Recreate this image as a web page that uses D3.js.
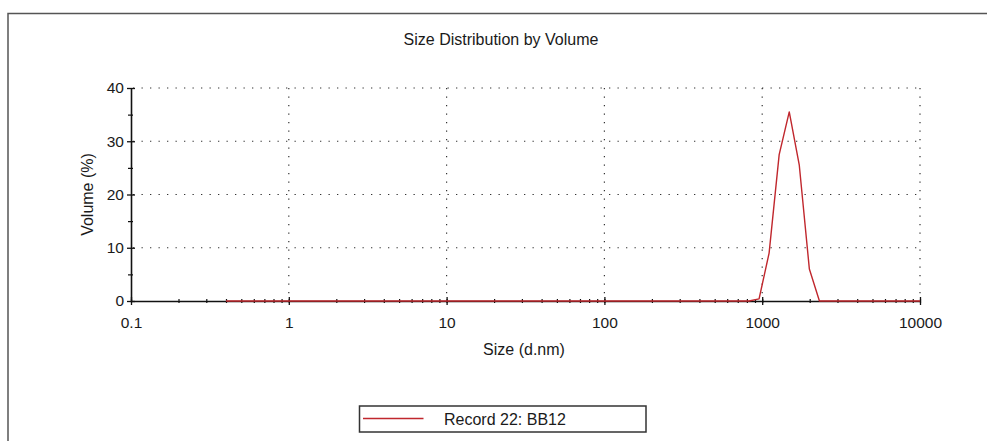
<!DOCTYPE html>
<html><head><meta charset="utf-8">
<script src="https://cdn.jsdelivr.net/npm/d3@7"></script>
<style>
html,body{margin:0;padding:0;background:#fff;}
svg{display:block;font-family:"Liberation Sans",Arial,sans-serif;}
</style></head>
<body>
<svg id="c" width="987" height="441"></svg>
<script>
// Zetasizer size classes (d.nm)
const sizes = [0.4000,0.4632,0.5365,0.6213,0.7195,0.8332,0.9649,
  1.117,1.294,1.499,1.736,2.010,2.328,2.696,3.122,3.615,4.187,4.849,5.615,6.503,7.531,8.721,
  10.10,11.70,13.54,15.69,18.17,21.04,24.36,28.21,32.67,37.84,43.82,50.75,58.77,68.06,78.82,91.28,
  105.7,122.4,141.8,164.2,190.1,220.2,255.0,295.3,342.0,396.1,458.7,531.2,615.1,712.4,825.0,955.4,
  1106,1281,1484,1718,1990,2305,2669,3091,3580,4145,4801,5560,6439,7456,8635,10000];
// Volume (%) per size class, Record 22: BB12
const volumes = [0,0,0,0,0,0,0,
  0,0,0,0,0,0,0,0,0,0,0,0,0,0,0,
  0,0,0,0,0,0,0,0,0,0,0,0,0,0,0,0,
  0,0,0,0,0,0,0,0,0,0,0,0,0,0,0,0.4,
  9,27.5,35.5,25.5,6,0,0,0,0,0,0,0,0,0,0,0];
const xTickValues = [0.1,1,10,100,1000,10000];
const xTickLabels = ["0.1","1","10","100","1000","10000"];
const yTickValues = [0,10,20,30,40];
const yMinorValues = [5,15,25,35];
const seriesName = "Record 22: BB12";
const chartTitle = "Size Distribution by Volume";
const xTitle = "Size (d.nm)";
const yTitle = "Volume (%)";

const svg = d3.select("#c");
const L = 131, R = 920, T = 88, B = 301;
const x = d3.scaleLog().domain([0.1, 10000]).range([L, R]);
const y = d3.scaleLinear().domain([0, 40]).range([B, T]);
const txt = "#1a1a1a";

// outer frame
svg.append("rect").attr("x", 8).attr("y", 13.5).attr("width", 1000).attr("height", 440)
  .attr("fill", "none").attr("stroke", "#555").attr("stroke-width", 1.5);

// title
svg.append("text").attr("x", 501).attr("y", 45).attr("text-anchor", "middle")
  .attr("font-size", 16).attr("fill", txt).text(chartTitle);

// grid
const grid = svg.append("g").attr("stroke", "#333").attr("stroke-width", 1.2)
  .attr("stroke-dasharray", "1.3,7.2");
grid.selectAll("line.h").data(yTickValues.filter(d => d > 0)).join("line")
  .attr("x1", L + 2).attr("x2", R).attr("y1", d => y(d)).attr("y2", d => y(d));
grid.selectAll("line.v").data(xTickValues.filter(d => d > 0.1)).join("line")
  .attr("x1", d => x(d)).attr("x2", d => x(d)).attr("y1", T).attr("y2", B - 2);

// x axis minor ticks
const xMinor = svg.append("g").attr("transform", `translate(0,${B})`)
  .call(d3.axisBottom(x).tickValues(x.ticks()).tickFormat("").tickSizeInner(2).tickSizeOuter(0));
xMinor.select(".domain").remove();
xMinor.selectAll(".tick line").attr("y1", -2).attr("stroke", "#111").attr("stroke-width", 1.2);

// x axis major
const xAx = svg.append("g").attr("transform", `translate(0,${B})`)
  .call(d3.axisBottom(x).tickValues(xTickValues).tickFormat((d, i) => xTickLabels[i])
    .tickSizeInner(4).tickSizeOuter(0).tickPadding(12));
xAx.select(".domain").attr("stroke", "#111").attr("stroke-width", 1.6);
xAx.selectAll(".tick line").attr("y1", -4).attr("stroke", "#111").attr("stroke-width", 1.3);
xAx.selectAll(".tick text").attr("font-size", 15.5).attr("fill", txt)
  .attr("font-family", "Liberation Sans, Arial, sans-serif");

// y axis minor
const yMin = svg.append("g").attr("transform", `translate(${L},0)`)
  .call(d3.axisLeft(y).tickValues(yMinorValues).tickFormat("").tickSizeInner(3).tickSizeOuter(0));
yMin.select(".domain").remove();
yMin.selectAll(".tick line").attr("x1", 2).attr("stroke", "#111").attr("stroke-width", 1.2);

// y axis major
const yAx = svg.append("g").attr("transform", `translate(${L},0)`)
  .call(d3.axisLeft(y).tickValues(yTickValues).tickSizeInner(4).tickSizeOuter(0).tickPadding(3));
yAx.select(".domain").attr("stroke", "#111").attr("stroke-width", 1.6);
yAx.selectAll(".tick line").attr("x1", 4).attr("stroke", "#111").attr("stroke-width", 1.3);
yAx.selectAll(".tick text").attr("font-size", 15.5).attr("fill", txt)
  .attr("font-family", "Liberation Sans, Arial, sans-serif");

// axis titles
svg.append("text").attr("x", 524).attr("y", 355).attr("text-anchor", "middle")
  .attr("font-size", 16).attr("fill", txt).text(xTitle);
svg.append("text").attr("transform", "translate(93,194.5) rotate(-90)").attr("text-anchor", "middle")
  .attr("font-size", 16).attr("fill", txt).text(yTitle);

// series line
const line = d3.line().x((d, i) => x(sizes[i])).y(d => y(d));
svg.append("path").datum(volumes).attr("d", line).attr("fill", "none")
  .attr("stroke", "#c0272d").attr("stroke-width", 1.4).attr("stroke-linejoin", "round");

// legend
const lg = svg.append("g");
lg.append("rect").attr("x", 359.5).attr("y", 406).attr("width", 286.5).attr("height", 26)
  .attr("fill", "#fff").attr("stroke", "#333").attr("stroke-width", 1.5);
lg.append("line").attr("x1", 363).attr("x2", 423.5).attr("y1", 418.5).attr("y2", 418.5)
  .attr("stroke", "#c0272d").attr("stroke-width", 1.4);
lg.append("text").attr("x", 444).attr("y", 425).attr("font-size", 16).attr("fill", txt).text(seriesName);
</script>
</body></html>
